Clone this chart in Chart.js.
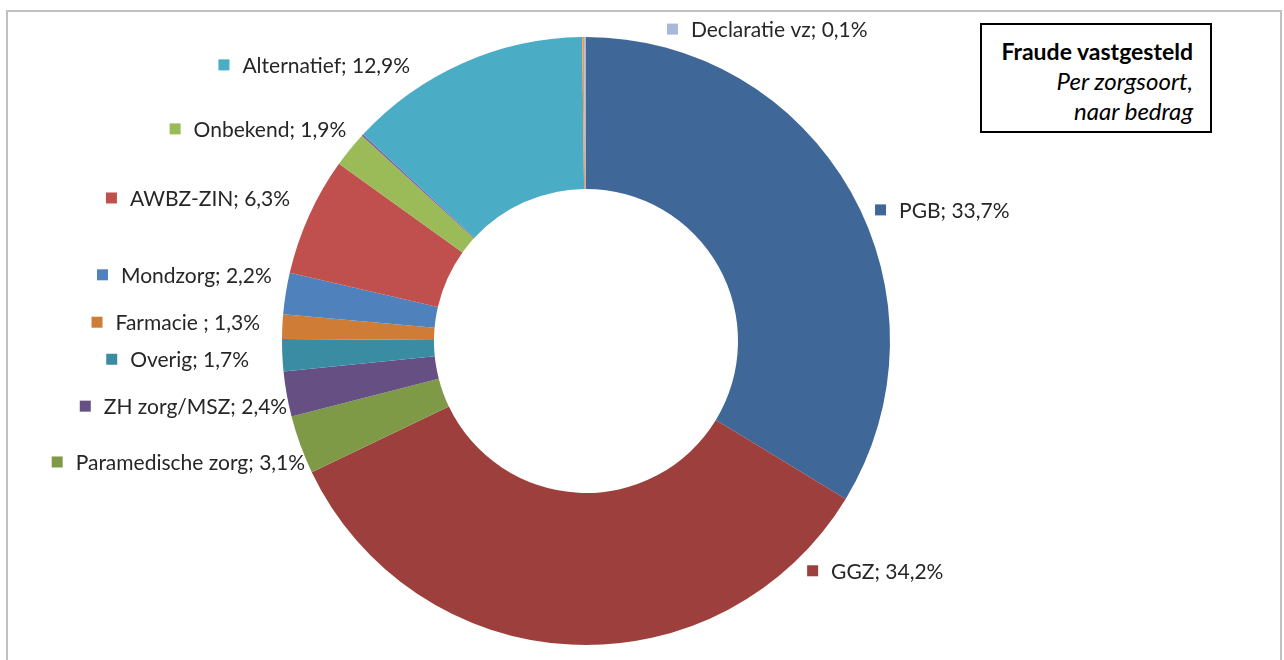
<!DOCTYPE html>
<html>
<head>
<meta charset="utf-8">
<script src="https://cdn.jsdelivr.net/npm/chart.js@4.4.1/dist/chart.umd.min.js"></script>
<style>
  html, body { margin: 0; padding: 0; background: #ffffff; }
  #wrap { position: relative; width: 1284px; height: 660px; overflow: hidden; }
  #frame { position: absolute; left: 6px; top: 10px; width: 1276px; height: 700px;
           border: 2px solid #c0c0c0; box-sizing: border-box; }
  canvas { position: absolute; left: 0; top: 0; }
  #titlebox { position: absolute; left: 980px; top: 23px; width: 232px; height: 110px;
              border: 2px solid #000; box-sizing: border-box; background: #fff;
              font-family: Lato, "Open Sans", sans-serif; color: #000; text-align: right;
              padding: 11px 17px 0 0; }
  #titlebox .t1 { font-weight: bold; font-size: 23px; line-height: 30px; }
  #titlebox .t2 { font-style: italic; font-size: 24px; line-height: 30px; }
</style>
</head>
<body>
<div id="wrap">
  <div id="frame"></div>
  <canvas id="c" width="1284" height="660"></canvas>
  <div id="titlebox">
    <div class="t1">Fraude vastgesteld</div>
    <div class="t2">Per zorgsoort,</div>
    <div class="t2">naar bedrag</div>
  </div>
</div>
<script>
// ---- data (clockwise from top) ----
const categories = ["PGB", "GGZ", "Paramedische zorg", "ZH zorg/MSZ", "Overig", "Farmacie ",
  "Mondzorg", "AWBZ-ZIN", "Onbekend", "", "Alternatief", "", "Declaratie vz"];
const values = [33.7, 34.2, 3.1, 2.4, 1.7, 1.3, 2.2, 6.3, 1.9, 0.1, 12.9, 0.1, 0.1];
const valueLabels = ["33,7%", "34,2%", "3,1%", "2,4%", "1,7%", "1,3%", "2,2%", "6,3%", "1,9%", "", "12,9%", "", "0,1%"];

// ---- styles ----
const colors = ["#3F6899", "#9D403D", "#7E9A47", "#664F83", "#3A8CA3", "#CF7C36",
  "#4F81BD", "#C0504D", "#9BBB59", "#8064A2", "#4BACC6", "#F79646", "#A7B8D8"];
// label anchor: angle (deg, clockwise from top), radius factor of outer radius, alignment
const labelAnchors = [
  [65.6, 1.044, "left"], [136.1, 1.049, "left"], [246.7, 1.006, "right"], [257.7, 1.006, "right"],
  [266.9, 1.11, "right"], [273.3, 1.074, "right"], [281.9, 1.056, "right"], [295.8, 1.081, "right"],
  [311.5, 1.053, "right"], null, [327.5, 1.077, "right"], null, [14.55, 1.06, "left"]
];

const labelFont = '21px Lato, "Open Sans", sans-serif';
const labelPlugin = {
  id: "sliceLabels",
  afterDatasetsDraw(chart) {
    const ctx = chart.ctx;
    const meta = chart.getDatasetMeta(0);
    ctx.save();
    ctx.font = labelFont;
    ctx.textBaseline = "middle";
    meta.data.forEach((arc, i) => {
      const a = labelAnchors[i];
      if (!a || !categories[i]) return;
      const p = arc.getProps(["x", "y", "outerRadius"], true);
      const ang = a[0] * Math.PI / 180;
      const r = p.outerRadius * a[1];
      const ax = p.x + r * Math.sin(ang);
      const ay = p.y - r * Math.cos(ang);
      const text = categories[i] + "; " + valueLabels[i];
      const tw = ctx.measureText(text).width;
      const sq = 11, gap = 13;
      let sx;
      if (a[2] === "left") sx = ax; else sx = ax - tw - gap - sq;
      ctx.fillStyle = colors[i];
      ctx.fillRect(sx, ay - sq / 2, sq, sq);
      ctx.fillStyle = "#262626";
      ctx.textAlign = "left";
      ctx.fillText(text, sx + sq + gap, ay + 1);
    });
    ctx.restore();
  }
};

new Chart(document.getElementById("c"), {
  type: "doughnut",
  data: {
    labels: categories,
    datasets: [{
      data: values,
      backgroundColor: colors,
      borderWidth: 0,
      hoverOffset: 0
    }]
  },
  options: {
    responsive: false,
    animation: false,
    cutout: "50%",
    layout: { padding: { top: 37, bottom: 15, left: 282, right: 394 } },
    plugins: { legend: { display: false }, tooltip: { enabled: false } }
  },
  plugins: [labelPlugin]
});
</script>
</body>
</html>
